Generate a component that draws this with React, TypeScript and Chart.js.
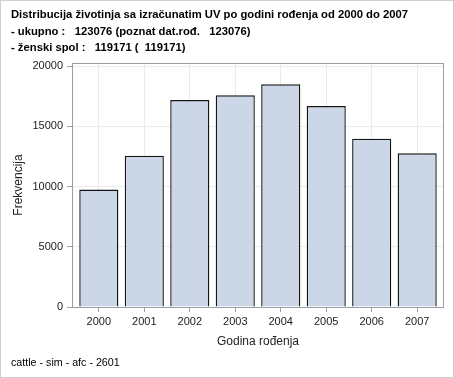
import React, { useEffect, useRef } from "react";
import { Chart, registerables } from "chart.js";

Chart.register(...registerables);

const years = ["2000", "2001", "2002", "2003", "2004", "2005", "2006", "2007"];
const frequencies = [9750, 12560, 17180, 17570, 18480, 16680, 13970, 12760];
const yTickValues = [0, 5000, 10000, 15000, 20000];
const titleLines = [
  "Distribucija životinja sa izračunatim UV po godini rođenja od 2000 do 2007",
  "- ukupno :   123076 (poznat dat.rođ.   123076)",
  "- ženski spol :   119171 (  119171)",
];
const footnote = "cattle - sim - afc - 2601";
const xTitle = "Godina rođenja";
const yTitle = "Frekvencija";

const FONT = "'Liberation Sans', Arial, sans-serif";

export default function App() {
  const ref = useRef<HTMLCanvasElement>(null);

  useEffect(() => {
    const decor = {
      id: "decor",
      beforeDraw(chart: any) {
        const ctx = chart.ctx;
        ctx.save();
        ctx.fillStyle = "#ffffff";
        ctx.fillRect(0, 0, chart.width, chart.height);
        ctx.strokeStyle = "#cfcfcf";
        ctx.lineWidth = 1;
        ctx.strokeRect(0.5, 0.5, chart.width - 1, chart.height - 1);
        ctx.restore();
      },
      afterDatasetsDraw(chart: any) {
        const ctx = chart.ctx;
        const a = chart.chartArea;
        ctx.save();
        ctx.strokeStyle = "#9a9ea4";
        ctx.lineWidth = 1;
        ctx.strokeRect(Math.round(a.left) + 0.5, Math.round(a.top) + 0.5, Math.round(a.right - a.left) - 1, Math.round(a.bottom - a.top));
        ctx.restore();
      },
      afterDraw(chart: any) {
        const ctx = chart.ctx;
        ctx.save();
        ctx.fillStyle = "#000000";
        ctx.textBaseline = "middle";
        ctx.textAlign = "left";
        ctx.font = `bold 11.25px ${FONT}`;
        const ys = [15, 32, 48];
        titleLines.forEach((t, i) => ctx.fillText(t, 11, ys[i]));
        ctx.font = `10.7px ${FONT}`;
        ctx.fillText(footnote, 11, 363);
        ctx.restore();
      },
    };

    const chart = new Chart(ref.current as HTMLCanvasElement, {
      type: "bar",
      data: {
        datasets: [
          {
            data: years.map((_, i) => ({ x: i, y: frequencies[i] })),
            backgroundColor: "#cbd6e6",
            borderColor: "#151515",
            borderWidth: 1.4,
            barPercentage: 0.86,
            categoryPercentage: 1,
          },
        ],
      },
      options: {
        responsive: false,
        animation: false,
        devicePixelRatio: 1,
        layout: { padding: { top: 63, right: 10, left: 0, bottom: 0 } },
        plugins: { legend: { display: false }, tooltip: { enabled: false }, title: { display: false } },
        scales: {
          x: {
            type: "linear",
            offset: false,
            min: -0.59,
            max: 7.59,
            afterBuildTicks: (s: any) => {
              s.ticks = years.map((_, i) => ({ value: i }));
            },
            afterFit: (s: any) => {
              s.height = 71;
            },
            ticks: {
              callback: (v: any) => years[v],
              font: { family: FONT, size: 11 },
              color: "#222222",
              padding: 3,
              maxRotation: 0,
              autoSkip: false,
            },
            grid: { offset: false, color: "#ebebeb", tickColor: "#a0a0a0", tickLength: 5 },
            border: { display: false },
            title: {
              display: true,
              text: xTitle,
              font: { family: FONT, size: 12 },
              color: "#222222",
              padding: { top: 0, bottom: 29 },
            },
          },
          y: {
            min: 0,
            max: 20250,
            afterBuildTicks: (s: any) => {
              s.ticks = yTickValues.map((v) => ({ value: v }));
            },
            afterFit: (s: any) => {
              s.width = 72;
            },
            ticks: {
              font: { family: FONT, size: 11 },
              color: "#222222",
              padding: 4,
              callback: (v: any) => String(v),
            },
            grid: { color: "#ebebeb", tickColor: "#a0a0a0", tickLength: 5 },
            border: { display: false },
            title: {
              display: true,
              text: yTitle,
              font: { family: FONT, size: 12 },
              color: "#222222",
              padding: { top: 11, bottom: 0 },
            },
          },
        },
      },
      plugins: [decor],
    } as any);

    return () => chart.destroy();
  }, []);

  return (
    <div style={{ position: "absolute", left: 0, top: 0, width: 454, height: 378 }}>
      <canvas ref={ref} width={454} height={378} style={{ display: "block" }} />
    </div>
  );
}
